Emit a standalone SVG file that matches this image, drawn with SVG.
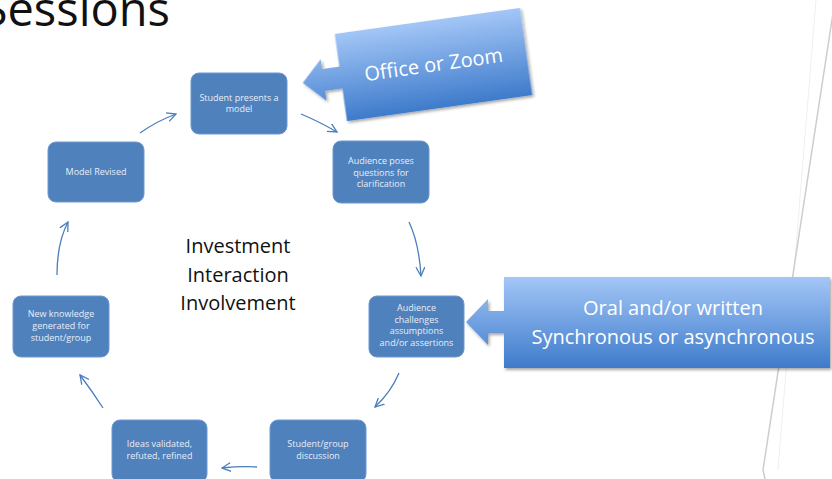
<svg xmlns="http://www.w3.org/2000/svg" width="832" height="479" viewBox="0 0 832 479">
<defs>
<style>
.node rect{fill:#4f81bd;stroke:#6d97cf;stroke-width:1}
.node text{font-family:"Open Sans","Liberation Sans",sans-serif;font-size:9px;fill:#e8eef8;text-anchor:middle}
.conn path{fill:none;stroke:#4a7ebb;stroke-width:1.3;marker-end:url(#ah)}
.big{font-family:"Open Sans","Liberation Sans",sans-serif;fill:#111;text-anchor:middle}
.call text{font-family:"Open Sans","Liberation Sans",sans-serif;fill:#ffffff;text-anchor:middle}
</style>
<marker id="ah" viewBox="0 0 10 10" refX="9" refY="5" markerWidth="10" markerHeight="10" markerUnits="userSpaceOnUse" orient="auto">
<path d="M0,0.5 L9,5 L0,9.5" fill="none" stroke="#4a7ebb" stroke-width="1.3"/>
</marker>
<linearGradient id="g1" x1="0" y1="0" x2="0" y2="1">
<stop offset="0" stop-color="#a3c6f7"/>
<stop offset="1" stop-color="#3e7bcb"/>
</linearGradient>
<filter id="sh" x="-10%" y="-10%" width="130%" height="140%">
<feDropShadow dx="1.5" dy="2" stdDeviation="1.5" flood-color="#000" flood-opacity="0.35"/>
</filter>
</defs>
<rect width="832" height="479" fill="#ffffff"/>
<!-- decorative lines -->
<line x1="816" y1="0" x2="778" y2="470" stroke="#efefef" stroke-width="1"/>
<path d="M835,0 L763,470 L765,479" fill="none" stroke="#cdcdcd" stroke-width="1.5"/>
<!-- title -->
<text class="big" x="170" y="26" font-size="47" style="text-anchor:end">Sessions</text>
<!-- center text -->
<text class="big" x="238" y="253" font-size="20">Investment</text>
<text class="big" x="238" y="282" font-size="20">Interaction</text>
<text class="big" x="238" y="310" font-size="20">Involvement</text>
<!-- connectors -->
<g class="conn" id="connectors">
<path d="M301,114 Q318,121 337,132"/>
<path d="M409,222 Q419,243 421,276"/>
<path d="M399,373 Q391,392 375,407"/>
<path d="M257,467 Q240,466 222,468"/>
<path d="M103,408 Q92,391 80,375"/>
<path d="M57,275 Q57,243 68,222"/>
<path d="M140,133 Q157,121 176,114"/>
</g>
<!-- nodes -->
<g class="node" id="n1"><rect x="191" y="73" width="96" height="61" rx="8"/><text x="239" y="101">Student presents a</text><text x="239" y="112">model</text></g>
<g class="node" id="n2"><rect x="333" y="141" width="96" height="62" rx="8"/><text x="381" y="164">Audience poses</text><text x="381" y="175.5">questions for</text><text x="381" y="187">clarification</text></g>
<g class="node" id="n3"><rect x="48" y="142" width="96" height="60" rx="8"/><text x="96" y="175">Model Revised</text></g>
<g class="node" id="n4"><rect x="13" y="296" width="96" height="61" rx="8"/><text x="61" y="317">New knowledge</text><text x="61" y="329">generated for</text><text x="61" y="341">student/group</text></g>
<g class="node" id="n5"><rect x="369" y="296" width="95" height="61" rx="8"/><text x="416.5" y="311">Audience</text><text x="416.5" y="322.5">challenges</text><text x="416.5" y="334">assumptions</text><text x="416.5" y="346">and/or assertions</text></g>
<g class="node" id="n6"><rect x="112" y="420" width="95" height="62" rx="8"/><text x="159.5" y="447">Ideas validated,</text><text x="159.5" y="459">refuted, refined</text></g>
<g class="node" id="n7"><rect x="270" y="420" width="96" height="62" rx="8"/><text x="318" y="447">Student/group</text><text x="318" y="459">discussion</text></g>
<!-- callouts -->
<g class="call" id="c1" transform="translate(433.5,64.5) rotate(-8)">
<path d="M-93.5,-44 H93.5 V44 H-93.5 V11 H-111 V21 L-132,0 L-111,-21 V-11 H-93.5 Z" fill="url(#g1)" filter="url(#sh)"/>
<text x="0" y="7" font-size="20">Office or Zoom</text>
</g>
<g class="call" id="c2">
<path d="M504,277 H830 V368 H504 V333 H488 V345 L466,322 L488,299 V311 H504 Z" fill="url(#g1)" filter="url(#sh)"/>
<text x="673" y="315" font-size="20">Oral and/or written</text>
<text x="673" y="344" font-size="20">Synchronous or asynchronous</text>
</g>
</svg>
